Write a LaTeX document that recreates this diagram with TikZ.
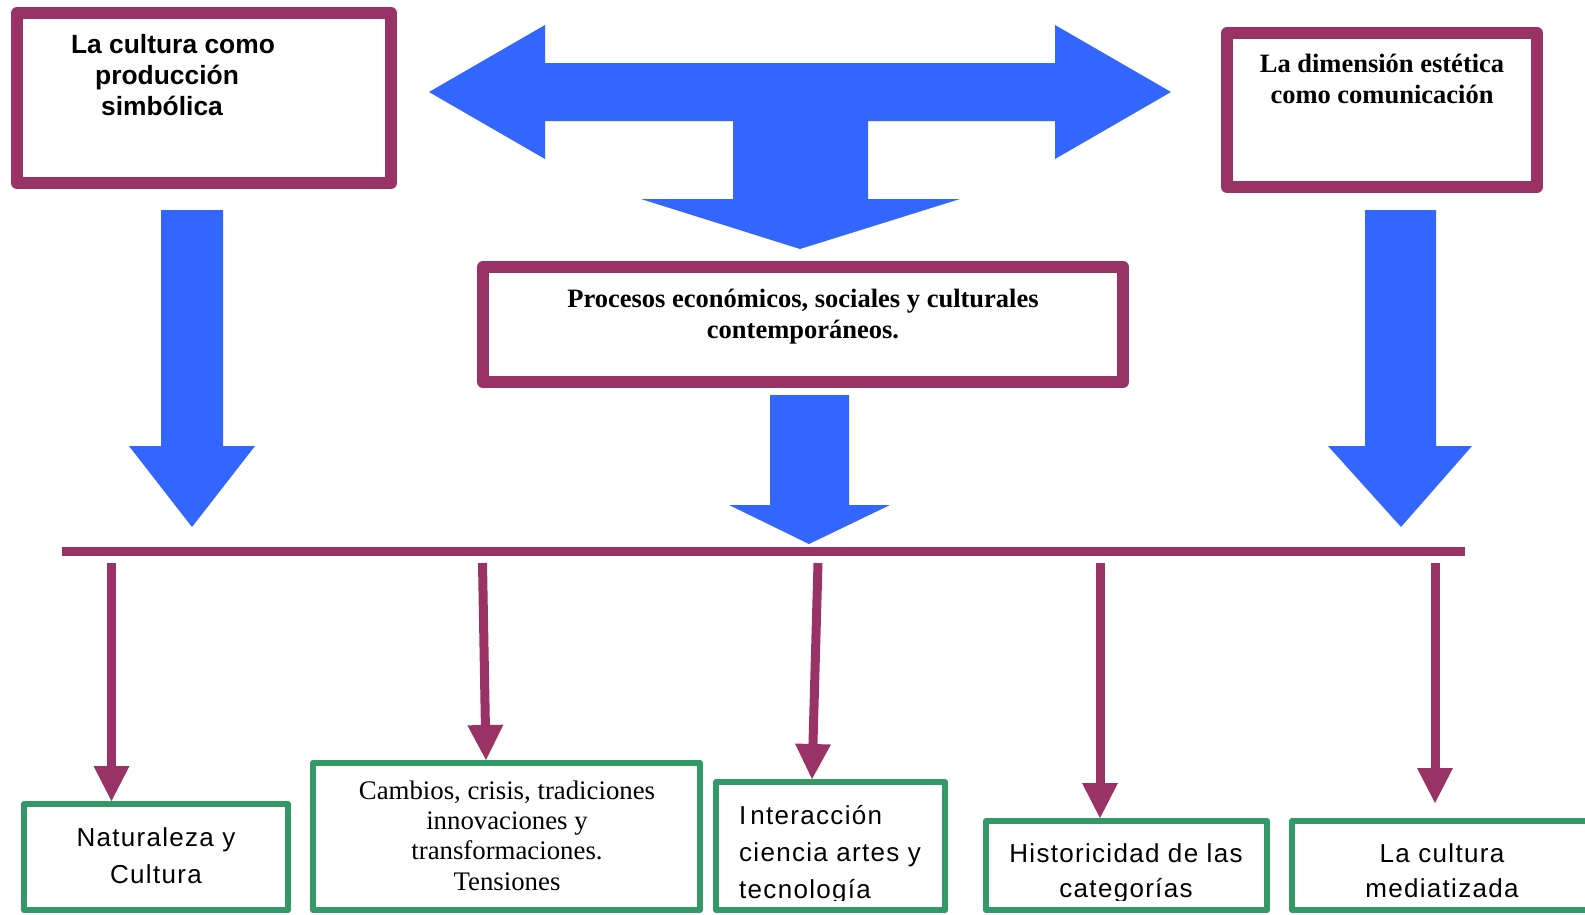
\documentclass[tikz,border=0pt]{standalone}
\usepackage{fontspec}
\setmainfont{Liberation Serif}
\newfontfamily\arialf{Liberation Sans}
\newfontfamily\greenf{Liberation Sans}[LetterSpace=5]
\usetikzlibrary{arrows.meta}
\definecolor{plum}{RGB}{153,51,102}
\definecolor{blueA}{RGB}{51,102,255}
\definecolor{greenA}{RGB}{51,153,102}
\begin{document}
\begin{tikzpicture}[x=1pt,y=-1pt,
  topbox/.style={draw=plum, line width=12pt, line join=round, rectangle, inner sep=0pt},
  greenbox/.style={draw=greenA, line width=6pt, line join=round, rectangle, inner sep=0pt},
  blockarrow/.style={fill=blueA},
  bar/.style={draw=plum, line width=9pt},
  parrow/.style={draw=plum, line width=9pt, -{Triangle[width=36pt,length=35pt,line width=0pt]}},
  sansbold/.style={font=\arialf\bfseries\fontsize{26.4}{31}\selectfont},
  serifbold/.style={font=\bfseries\fontsize{26.5}{31}\selectfont},
  serifreg/.style={font=\fontsize{26.8}{30.3}\selectfont},
  greentext/.style={font=\greenf\fontsize{26}{37}\selectfont},
  greentextb/.style={font=\greenf\fontsize{26}{35}\selectfont}
]
\fill[white] (0,0) rectangle (1585,914);
\useasboundingbox (0,0) rectangle (1585,914);

% top boxes
\node[topbox, minimum width=374pt, minimum height=170pt] (p1) at (204,98) {};
\node[topbox, minimum width=310pt, minimum height=154pt] (p2) at (1382,110) {};
\node[topbox, minimum width=640pt, minimum height=115pt] (pm) at (803,324.5) {};

\node[sansbold, anchor=base, align=center, inner sep=0pt] (t1) at (167,115) {\hspace*{12pt}La cultura como\\producción\\simbólica\hspace*{10pt}};
\node[serifbold, anchor=base, align=center, inner sep=0pt] (t2) at (1382,103) {La dimensión estética\\como comunicación};
\node[serifbold, anchor=base, align=center, inner sep=0pt] (tm) at (803,338) {Procesos económicos, sociales y culturales\\contemporáneos.};

% blue block arrows
\fill[blockarrow] (429,92) -- (545,25) -- (545,63) -- (1055,63) -- (1055,25) -- (1171,92)
  -- (1055,159) -- (1055,121) -- (868,121) -- (868,199) -- (960,199) -- (800,249)
  -- (641,199) -- (733,199) -- (733,121) -- (545,121) -- (545,159) -- cycle;
\fill[blockarrow] (161,210) -- (223,210) -- (223,446) -- (255,446) -- (192,527) -- (129,446) -- (161,446) -- cycle;
\fill[blockarrow] (1365,210) -- (1436,210) -- (1436,446) -- (1472,446) -- (1401,527) -- (1328,446) -- (1365,446) -- cycle;
\fill[blockarrow] (770,395) -- (849,395) -- (849,505) -- (890,505) -- (809,544) -- (729,505) -- (770,505) -- cycle;

% bar
\coordinate (bl) at (62,551.5);
\coordinate (br) at (1465,551.5);
\draw[bar] (bl) -- (br);

% green boxes
\node[greenbox, minimum width=264pt, minimum height=106pt] (g1) at (156,857) {};
\node[greenbox, minimum width=387pt, minimum height=147pt] (g2) at (506.5,836.5) {};
\node[greenbox, minimum width=229pt, minimum height=128pt] (g3) at (830.5,846) {};
\node[greenbox, minimum width=281pt, minimum height=89pt] (g4) at (1126.5,865.5) {};
\node[greenbox, minimum width=318pt, minimum height=89pt] (g5) at (1451,865.5) {};

\node[greentext, anchor=base, align=center, inner sep=0pt] (n1) at (156,883) {Naturaleza y\\Cultura};
\node[serifreg, anchor=base, align=center, inner sep=0pt] (n2) at (507,890) {Cambios, crisis, tradiciones\\innovaciones y\\transformaciones.\\Tensiones};
\begin{scope}
\clip (700,700) rectangle (1585,900);
\node[greentext, anchor=base west, align=left, inner sep=0pt] (n3) at (739,898) {I\kern4pt nteracción\\ciencia artes y\\tecnología};
\node[greentextb, anchor=base, align=center, inner sep=0pt] (n4) at (1126,897) {Historicidad de las\\categorías};
\node[greentextb, anchor=base, align=center, inner sep=0pt] (n5) at (1442,897) {La cultura\\mediatizada};
\end{scope}

% purple connectors
\coordinate (s1) at (111.5,563);
\coordinate (s2) at (482.5,563);
\coordinate (s3) at (818,563);
\coordinate (s4) at (1100,563);
\coordinate (s5) at (1435,563);
\coordinate (x2) at (486,0);
\coordinate (x3) at (812,0);
\coordinate (e5) at (1435,803);
\draw[parrow] (s1) -- (s1 |- g1.north);
\draw[parrow] (s2) -- (x2 |- g2.north);
\draw[parrow] (s3) -- (x3 |- g3.north);
\draw[parrow] (s4) -- (s4 |- g4.north);
\draw[parrow] (s5) -- (e5);
\end{tikzpicture}
\end{document}
